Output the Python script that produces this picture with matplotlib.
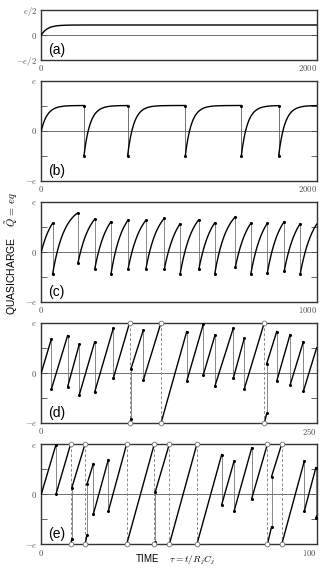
import numpy as np
import matplotlib.pyplot as plt

plt.rcParams['font.family'] = ['Liberation Sans', 'DejaVu Sans']
plt.rcParams['mathtext.fontset'] = 'cm'

# (a) relaxation to a constant quasicharge
a_level = 0.2
a_tmax = 2000

# (b) jumps from +e/2 to -e/2
b_level = 0.5
b_jump_t = [310, 627, 1046, 1453, 1724]
b_tmax = 2000

relax_tau = 45

# (c) jump times, charge before and after each jump, end value
c_t = [41, 133, 194, 253, 315, 380, 447, 504, 572, 630, 705, 761, 821, 882, 940]
c_before = [0.57, 0.78, 0.65, 0.60, 0.63, 0.63, 0.67, 0.56, 0.64, 0.58, 0.70, 0.57, 0.57, 0.60, 0.56]
c_after = [-0.45, -0.23, -0.35, -0.45, -0.35, -0.34, -0.34, -0.45, -0.355, -0.44, -0.30, -0.44, -0.42, -0.39, -0.45]
c_end = 0.55
c_tmax = 1000
c_qinf = 0.95

# (d)  before == 1 means the charge reached the zone edge e and wraps to -e
d_t = [9.1, 23.9, 34.5, 48.4, 65.4, 80.2, 81.4, 92.6, 108.7, 132.0, 147.1, 157.7,
       174.3, 184.3, 202.5, 204.6, 213.7, 225.8, 237.9]
d_before = [0.67, 0.74, 0.57, 0.61, 0.89, 1.0, -0.92, 0.85, 1.0, 0.82, 0.97, 0.75,
            0.89, 0.69, 1.0, -0.81, 0.82, 0.76, 0.62]
d_after = [-0.33, -0.28, -0.44, -0.39, -0.11, -1.0, 0.08, -0.15, -1.0, -0.17, -0.04, -0.26,
           -0.11, -0.32, -1.0, 0.18, -0.17, -0.25, -0.37]
d_end = 0.5
d_tmax = 250

# (e)
e_t = [5.34, 10.66, 11.1, 15.87, 16.6, 18.9, 24.34, 31.0, 41.04, 41.4, 46.5, 56.5,
       65.5, 70.0, 76.4, 82.1, 83.6, 87.3, 95.5, 99.7]
e_before = [0.99, 1.0, -0.90, 1.0, -0.82, 0.61, 0.69, 1.0, 1.0, -0.96, 1.0, 1.0,
            0.79, 0.66, 0.92, 1.0, -0.65, 1.0, 0.66, 0.53]
e_after = [0.0, -1.0, 0.13, -1.0, 0.20, -0.40, -0.34, -1.0, -1.0, 0.05, -1.0, -1.0,
           -0.21, -0.34, -0.09, -1.0, 0.35, -1.0, -0.34, -0.47]
e_end = -0.43
e_tmax = 100

W, H = 325.0, 575.0
fig = plt.figure(figsize=(3.25, 5.75), dpi=100)


def make_axes(top, bottom, tmax, half=False):
    ax = fig.add_axes([41.3 / W, 1 - bottom / H, 275.4 / W, (bottom - top) / H])
    ax.set_xlim(0, tmax)
    lim = 0.5 if half else 1.0
    ax.set_ylim(-lim, lim)
    ax.axhline(0, color='0.35', lw=0.6, zorder=1)
    for sp in ax.spines.values():
        sp.set_linewidth(1.0)
        sp.set_color('0.2')
    ax.set_xticks([0, tmax])
    ax.set_xticklabels(['$0$', '$%d$' % tmax])
    ax.get_xticklabels()[-1].set_ha('right')
    ax.tick_params(axis='x', length=0, pad=2.5, labelsize=6.3, labelcolor='0.3')
    if half:
        ax.set_yticks([-0.5, 0, 0.5])
        ax.set_yticklabels(['$-e/2$', '$0$', '$e/2$'])
    else:
        ax.set_yticks([-1, -0.5, 0, 0.5, 1])
        ax.set_yticklabels(['$-e$', '', '$0$', '', '$e$'])
    ax.tick_params(axis='y', direction='in', length=4, width=0.6, color='0.3',
                   right=True, pad=3, labelsize=6.3, labelcolor='0.3')
    return ax


def label(ax, s):
    ax.annotate(s, xy=(0, 0), xycoords='axes fraction', xytext=(7, 10),
                textcoords='offset pixels', fontsize=10, ha='left', va='center')


def segment(ax, t0, q0, t1, q1, qinf=None):
    s = np.linspace(0, 1, 40)
    if qinf is None:
        q = q0 + (q1 - q0) * s
    else:
        q = qinf - (qinf - q0) * ((qinf - q1) / (qinf - q0)) ** s
    ax.plot(t0 + (t1 - t0) * s, q, color='k', lw=1.0, zorder=3)


def draw_jumps(ax, ts, before, after, tmax, q_end, qinf=None):
    tp, qp = 0.0, 0.0
    for t, qb, qa in zip(ts, before, after):
        segment(ax, tp, qp, t, qb, qinf)
        if qb >= 1.0:
            ax.plot([t, t], [1, -1], color='0.55', lw=0.7, ls=(0, (3, 2)), zorder=2)
            ax.plot([t, t], [1, -1], 'o', ms=3.4, mfc='white', mec='0.45', mew=0.6,
                    clip_on=False, zorder=6)
        else:
            ax.plot([t, t], [qb, qa], color='0.45', lw=0.6, zorder=2)
            ax.plot([t, t], [qb, qa], 'o', ms=2.2, color='k', mew=0, zorder=5)
        tp, qp = t, qa
    segment(ax, tp, qp, tmax, q_end, qinf)


# (a)
ax = make_axes(10, 60, a_tmax, half=True)
t = np.linspace(0, a_tmax, 800)
ax.plot(t, a_level * (1 - np.exp(-t / relax_tau)), color='k', lw=1.0, zorder=3)
label(ax, '(a)')

# (b)
ax = make_axes(80.5, 180.5, b_tmax)
tp, qp = 0.0, 0.0
for tj in b_jump_t + [b_tmax]:
    t = np.linspace(tp, tj, 300)
    q = b_level - (b_level - qp) * np.exp(-(t - tp) / relax_tau)
    ax.plot(t, q, color='k', lw=1.0, zorder=3)
    if tj < b_tmax:
        ax.plot([tj, tj], [q[-1], q[-1] - 1], color='0.35', lw=0.6, zorder=2)
        ax.plot([tj, tj], [q[-1], q[-1] - 1], 'o', ms=2.2, color='k', mew=0, zorder=5)
    tp, qp = tj, q[-1] - 1
label(ax, '(b)')

# (c)
ax = make_axes(201.7, 301.7, c_tmax)
draw_jumps(ax, c_t, c_before, c_after, c_tmax, c_end, c_qinf)
label(ax, '(c)')

# (d)
ax = make_axes(322.5, 423, d_tmax)
draw_jumps(ax, d_t, d_before, d_after, d_tmax, d_end)
label(ax, '(d)')

# (e)
ax = make_axes(444, 544.3, e_tmax)
draw_jumps(ax, e_t, e_before, e_after, e_tmax, e_end)
label(ax, '(e)')

fig.text(12 / W, 1 - 254 / H, r'QUASICHARGE    $\tilde{Q}\,=\,eq$', rotation=90,
         ha='center', va='center', fontsize=7.5)
fig.text(175 / W, 1 - 560 / H, r'TIME    $\tau = t/R_jC_j$', ha='center', va='center',
         fontsize=7)

fig.savefig('out.png', dpi=100)
